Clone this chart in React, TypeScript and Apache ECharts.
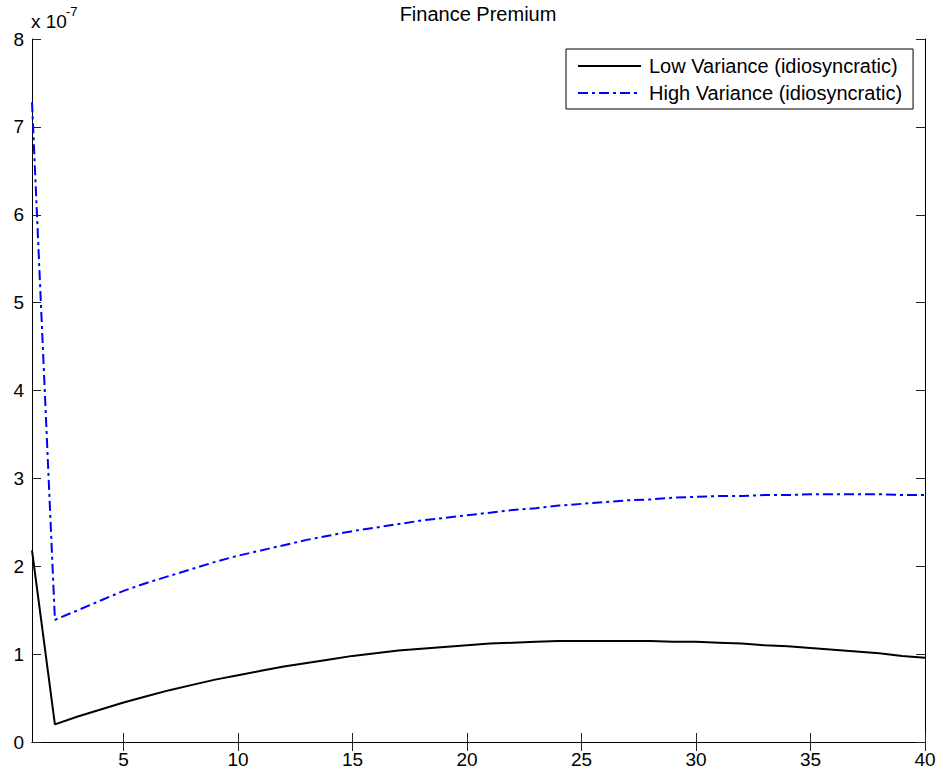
import React, { useEffect, useRef } from "react";
import * as echarts from "echarts";

const xs: number[] = Array.from({ length: 40 }, (_, i) => i + 1);

// values in units of 1e-7
const lowVariance: number[] = [
  2.18, 0.2, 0.29, 0.37, 0.45, 0.52, 0.59, 0.65, 0.71, 0.76,
  0.81, 0.86, 0.9, 0.94, 0.98, 1.01, 1.04, 1.06, 1.08, 1.1,
  1.12, 1.13, 1.14, 1.15, 1.15, 1.15, 1.15, 1.15, 1.14, 1.14,
  1.13, 1.12, 1.1, 1.09, 1.07, 1.05, 1.03, 1.01, 0.98, 0.96,
];
const highVariance: number[] = [
  7.28, 1.39, 1.5, 1.61, 1.72, 1.81, 1.89, 1.97, 2.05, 2.12,
  2.18, 2.24, 2.3, 2.35, 2.4, 2.44, 2.48, 2.52, 2.55, 2.58,
  2.61, 2.64, 2.66, 2.69, 2.71, 2.73, 2.75, 2.76, 2.78, 2.79,
  2.8, 2.8, 2.81, 2.81, 2.82, 2.82, 2.82, 2.82, 2.81, 2.81,
];
const xTicks: number[] = [5, 10, 15, 20, 25, 30, 35, 40];
const seriesNames: string[] = ["Low Variance (idiosyncratic)", "High Variance (idiosyncratic)"];
const titleText = "Finance Premium";

const FONT = "'Liberation Sans', Arial, Helvetica, sans-serif";

export default function App() {
  const ref = useRef<HTMLDivElement>(null);
  useEffect(() => {
    if (!ref.current) return;
    const chart = echarts.init(ref.current, null, { renderer: "svg" });
    const axisLine = { show: true, lineStyle: { color: "#000", width: 1 } };
    const tick = { show: true, inside: true, length: 9, lineStyle: { color: "#222", width: 1 } };
    chart.setOption({
      animation: false,
      backgroundColor: "#fff",
      title: {
        text: titleText,
        left: 478,
        textAlign: "center",
        top: 4,
        padding: 0,
        textStyle: { fontFamily: FONT, fontSize: 20, fontWeight: "normal", color: "#000" },
      },
      legend: {
        orient: "vertical",
        left: 566,
        top: 49,
        padding: [7, 11, 6, 11],
        itemWidth: 63,
        itemHeight: 20,
        itemGap: 7,
        borderColor: "#000",
        borderWidth: 1,
        backgroundColor: "#fff",
        itemStyle: { opacity: 0 },
        textStyle: { fontFamily: FONT, fontSize: 20, color: "#000", padding: [0, 0, 0, 3] },
        data: seriesNames,
      },
      grid: { left: 32, right: 18, top: 39, bottom: 33, containLabel: false },
      xAxis: [
        {
          type: "value",
          min: 1,
          max: 40,
          position: "bottom",
          axisLine,
          axisTick: { ...tick, customValues: xTicks },
          axisLabel: { customValues: xTicks, fontFamily: FONT, fontSize: 19, color: "#000", margin: 8 },
          splitLine: { show: false },
        },
        {
          type: "value",
          min: 1,
          max: 40,
          position: "top",
          axisLine,
          axisTick: { ...tick, customValues: xTicks },
          axisLabel: { show: false },
          splitLine: { show: false },
        },
      ],
      yAxis: [
        {
          type: "value",
          min: 0,
          max: 8,
          interval: 1,
          position: "left",
          axisLine,
          axisTick: tick,
          axisLabel: { fontFamily: FONT, fontSize: 19, color: "#000", margin: 8 },
          splitLine: { show: false },
        },
        {
          type: "value",
          min: 0,
          max: 8,
          interval: 1,
          position: "right",
          axisLine,
          axisTick: tick,
          axisLabel: { show: false },
          splitLine: { show: false },
        },
      ],
      graphic: [
        {
          type: "text",
          left: 31,
          top: 12,
          style: { text: "x 10", fontFamily: FONT, fontSize: 19, fill: "#000" },
        },
        {
          type: "text",
          left: 66,
          top: 5,
          style: { text: "-7", fontFamily: FONT, fontSize: 13, fill: "#000" },
        },
      ],
      series: [
        {
          name: seriesNames[0],
          type: "line",
          data: xs.map((x, i) => [x, lowVariance[i]]),
          symbol: "none",
          lineStyle: { color: "#000", width: 2, type: "solid" },
          itemStyle: { color: "#000" },
        },
        {
          name: seriesNames[1],
          type: "line",
          data: xs.map((x, i) => [x, highVariance[i]]),
          symbol: "none",
          lineStyle: { color: "#0000ff", width: 2, type: [10, 4, 3, 4] },
          itemStyle: { color: "#0000ff" },
        },
      ],
    });
    return () => chart.dispose();
  }, []);
  return (
    <div
      ref={ref}
      style={{ position: "fixed", left: 0, top: 0, width: 943, height: 775, background: "#fff" }}
    />
  );
}
